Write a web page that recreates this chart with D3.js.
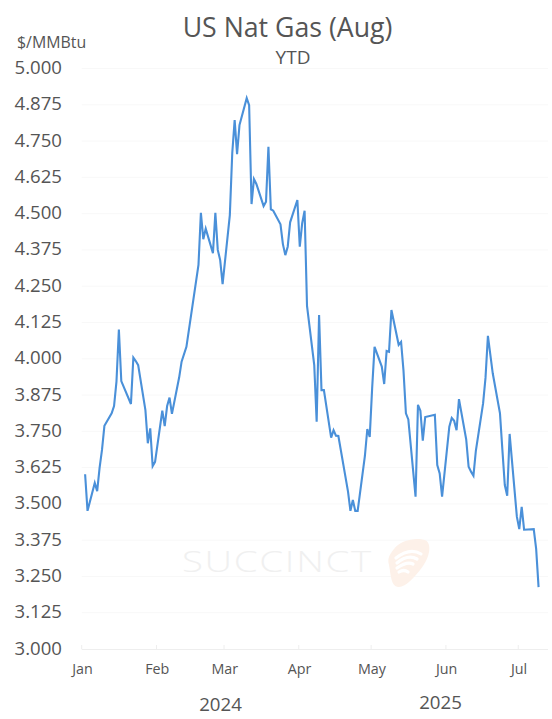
<!DOCTYPE html>
<html><head><meta charset="utf-8">
<script src="https://cdn.jsdelivr.net/npm/d3@7"></script>
<style>html,body{margin:0;padding:0;background:#fff}svg{display:block}text{font-family:"Open Sans",sans-serif;fill:#555}</style>
</head><body><svg id="c" width="552" height="719"></svg>
<script>
const titleText = "US Nat Gas (Aug)";
const subtitleText = "YTD";
const unitText = "$/MMBtu";
const yearLabels = ["2024", "2025"];
const yTicks = [3,3.125,3.25,3.375,3.5,3.625,3.75,3.875,4,4.125,4.25,4.375,4.5,4.625,4.75,4.875,5];
const monthTicks = ["01-01","02-01","03-01","04-01","05-01","06-01","07-01"];
const monthLabels = ["Jan","Feb","Mar","Apr","May","Jun","Jul"];
const dates = ["01-02","01-03","01-06","01-07","01-08","01-09","01-10","01-13","01-14","01-15","01-16","01-17",
"01-21","01-22","01-23","01-24","01-27","01-28","01-29","01-30","01-31",
"02-03","02-04","02-05","02-06","02-07","02-10","02-11","02-13","02-18","02-19","02-20","02-21","02-24","02-25","02-26","02-27","02-28",
"03-03","03-04","03-05","03-06","03-07","03-10","03-11","03-12","03-13","03-14","03-17","03-18","03-19","03-20","03-21","03-24","03-25","03-26","03-27","03-28","03-31",
"04-01","04-02","04-03","04-04","04-07","04-08","04-09","04-10","04-11","04-14","04-15","04-16","04-17","04-21","04-22","04-23","04-24","04-25","04-28","04-29","04-30",
"05-01","05-02","05-05","05-06","05-07","05-08","05-09","05-12","05-13","05-14","05-15","05-16","05-19","05-20","05-21","05-22","05-23","05-27","05-28","05-29","05-30",
"06-02","06-03","06-04","06-05","06-06","06-09","06-10","06-11","06-12","06-13","06-16","06-17","06-18","06-20","06-23","06-24","06-25","06-26","06-27","06-30",
"07-01","07-02","07-03","07-07","07-08","07-09"];
const prices = [3.602,3.476,3.572,3.544,3.624,3.686,3.769,3.812,3.837,3.921,4.101,3.923,
3.844,4.004,3.992,3.978,3.823,3.709,3.760,3.630,3.645,
3.821,3.768,3.837,3.866,3.810,3.936,3.990,4.041,4.323,4.503,4.412,4.448,4.364,4.503,4.375,4.340,4.257,
4.495,4.708,4.822,4.705,4.805,4.898,4.874,4.533,4.619,4.602,4.526,4.541,4.730,4.515,4.510,4.463,4.395,4.357,4.386,4.470,4.547,
4.386,4.467,4.510,4.182,3.978,3.783,4.151,3.892,3.892,3.728,3.754,3.735,3.734,3.542,3.476,3.513,3.476,3.476,3.665,3.758,3.731,
3.898,4.041,3.973,3.913,4.027,4.024,4.168,4.048,4.058,3.959,3.812,3.791,3.525,3.841,3.821,3.718,3.799,3.807,3.634,3.605,3.525,
3.766,3.796,3.786,3.754,3.861,3.722,3.628,3.611,3.597,3.683,3.846,3.934,4.079,3.950,3.812,3.686,3.565,3.528,3.741,3.456,
3.413,3.490,3.411,3.413,3.345,3.213];

const parse = s => new Date("2025-" + s + "T00:00:00Z");
const x = d3.scaleUtc().domain([parse("01-01"), parse("07-23")]).range([81.7, 81.7 + 2.412*203]);
const y = d3.scaleLinear().domain([3,5]).range([649,68.5]);
const svg = d3.select("#c");

svg.append("g").selectAll("line").data(yTicks.filter(v=>v>3)).join("line")
  .attr("x1",81.7).attr("x2",548).attr("y1",d=>y(d)).attr("y2",d=>y(d))
  .attr("stroke","#f8f8f8").attr("stroke-width",1);

const wm = svg.append("g");
wm.append("text").attr("transform","translate(182,572) scale(1.28,1)").attr("font-size",30).attr("font-weight",300)
  .attr("letter-spacing",1.3).style("fill","#f0f0f0").text("SUCCINCT");
const logo = wm.append("g").attr("transform","translate(388,538)");
logo.append("path").attr("d","M6 11 C12 2 28 -1 37 2 C44 5 42 18 35 28 C27 39 17 50 10 49 C3 48 3 38 1 27 C-1 20 2 16 6 11 Z").attr("fill","#fdf1e9");
["M8 20 Q22 9 33 16","M9 25 Q20 16 29 21","M9 30 Q19 23 25 26","M11 34 Q16 31 20 34"].forEach(p=>{
  logo.append("path").attr("d",p).attr("fill","none").attr("stroke","#fff").attr("stroke-width",3.2).attr("stroke-linecap","round");
});

const ax = svg.append("g");
ax.append("line").attr("x1",81.7).attr("x2",548).attr("y1",649.5).attr("y2",649.5).attr("stroke","#eeeeee");
const tickG = ax.selectAll("g").data(monthTicks).join("g");
tickG.append("line").attr("x1",d=>x(parse(d))).attr("x2",d=>x(parse(d))).attr("y1",645).attr("y2",649).attr("stroke","#eeeeee");
tickG.append("text").attr("x",d=>x(parse(d))+0.8).attr("y",674).attr("text-anchor","middle").attr("font-size",14.3).text((d,i)=>monthLabels[i]);

svg.append("g").selectAll("text").data(yTicks).join("text")
  .attr("x",62).attr("y",d=>y(d)+5.5).attr("text-anchor","end").attr("font-size",18.6)
  .text(d=>d3.format(".3f")(d));

const line = d3.line().x((d,i)=>x(parse(dates[i]))+1).y(d=>y(d)).curve(d3.curveLinear);
svg.append("path").datum(prices).attr("d",line).attr("fill","none")
  .attr("stroke","#4a90d9").attr("stroke-width",2.1).attr("stroke-linejoin","miter");

svg.append("text").attr("x",287.5).attr("y",37).attr("text-anchor","middle").attr("font-size",26.7).text(titleText);
svg.append("text").attr("x",293).attr("y",64).attr("text-anchor","middle").attr("font-size",19).text(subtitleText);
svg.append("text").attr("x",17).attr("y",48).attr("font-size",15.9).text(unitText);
svg.append("text").attr("x",220.5).attr("y",711).attr("text-anchor","middle").attr("font-size",18.7).text(yearLabels[0]);
svg.append("text").attr("x",440.5).attr("y",709).attr("text-anchor","middle").attr("font-size",18.7).text(yearLabels[1]);
</script></body></html>
